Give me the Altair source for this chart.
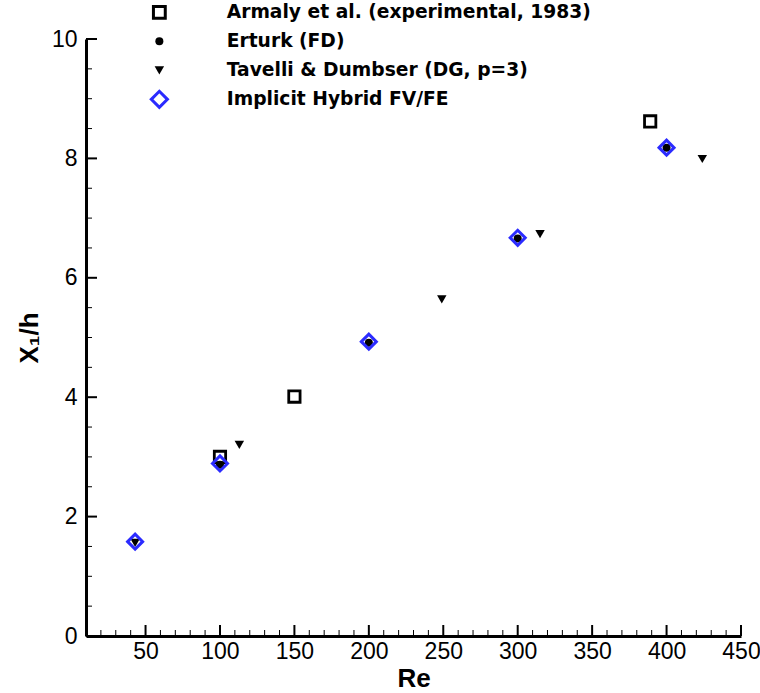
import altair as alt
import pandas as pd

# ---- data ----
series_names = [
    "Armaly et al. (experimental, 1983)",
    "Erturk (FD)",
    "Tavelli & Dumbser (DG, p=3)",
    "Implicit Hybrid FV/FE",
]
armaly_re = [100, 150, 389]
armaly_x = [3.00, 4.01, 8.62]
erturk_re = [100, 200, 300, 400]
erturk_x = [2.87, 4.91, 6.66, 8.18]
tavelli_re = [43, 113, 249, 315, 424]
tavelli_x = [1.56, 3.20, 5.64, 6.73, 7.99]
hybrid_re = [43, 100, 200, 300, 400]
hybrid_x = [1.58, 2.89, 4.93, 6.67, 8.18]

x_major = [50, 100, 150, 200, 250, 300, 350, 400, 450]
x_minor = [v for v in range(20, 450, 10) if v % 50 != 0]
y_major = [0, 2, 4, 6, 8, 10]
y_minor = [v / 2 for v in range(1, 20) if v % 4 != 0]

W, H = 655, 597
FONT = "Liberation Sans"
LEGFONT = "DejaVu Sans"

xscale = alt.Scale(domain=[10, 450], nice=False, zero=False)
yscale = alt.Scale(domain=[0, 10], nice=False, zero=True)

xaxis = alt.Axis(values=x_major, title="Re", ticks=False, grid=False,
                 domainColor="black", domainWidth=3, labelFlush=False,
                 labelFont=FONT, labelFontSize=23, labelColor="black",
                 labelPadding=4, titleFont=FONT, titleFontSize=26,
                 titleFontWeight="bold", titleColor="black", titlePadding=2)
yaxis = alt.Axis(values=y_major, title="X₁/h", ticks=False, grid=False,
                 domainColor="black", domainWidth=3, labelFlush=False,
                 labelFont=FONT, labelFontSize=23, labelColor="black",
                 labelPadding=9, titleFont=FONT, titleFontSize=26,
                 titleFontWeight="bold", titleColor="black", titlePadding=9)

n0, n1, n2, n3 = series_names
size_expr = (f"datum.value === '{n0}' ? 140 : datum.value === '{n1}' ? 64 : "
             f"datum.value === '{n2}' ? 90 : 260")
sw_expr = f"datum.value === '{n1}' || datum.value === '{n2}' ? 0 : 3"

legend = alt.Legend(title=None, orient="none", legendX=64, legendY=-36,
                    labelFont=LEGFONT, labelFontSize=18.7, labelFontWeight="bold",
                    labelColor="black", labelOffset=58, rowPadding=0,
                    gridAlign="all", padding=0, labelLimit=600, symbolOpacity=1,
                    symbolSize={"expr": size_expr},
                    symbolStrokeWidth={"expr": sw_expr})

shape_enc = alt.Shape("series:N", legend=legend,
                      scale=alt.Scale(domain=series_names,
                                      range=["square", "circle", "triangle-down", "diamond"]))
fill_enc = alt.Fill("series:N", legend=legend,
                    scale=alt.Scale(domain=series_names,
                                    range=["transparent", "black", "black", "transparent"]))
stroke_enc = alt.Stroke("series:N", legend=legend,
                        scale=alt.Scale(domain=series_names,
                                        range=["black", "black", "black", "#2b2bff"]))

marks_style = {n0: (128, 2.8), n1: (64, 0), n2: (90, 0), n3: (225, 3)}

xmaj_df = pd.DataFrame({"v": x_major})
xmin_df = pd.DataFrame({"v": x_minor})
ymaj_df = pd.DataFrame({"v": y_major})
ymin_df = pd.DataFrame({"v": y_minor})
layers = [
    alt.Chart(xmin_df).mark_rule(color="black", strokeWidth=1).encode(
        x=alt.X("v:Q", scale=xscale, axis=xaxis), y=alt.value(H), y2=alt.value(H - 6)),
    alt.Chart(xmaj_df).mark_rule(color="black", strokeWidth=2).encode(
        x=alt.X("v:Q", scale=xscale, axis=xaxis), y=alt.value(H), y2=alt.value(H - 11)),
    alt.Chart(ymin_df).mark_rule(color="black", strokeWidth=1).encode(
        y=alt.Y("v:Q", scale=yscale, axis=yaxis), x=alt.value(0), x2=alt.value(6)),
    alt.Chart(ymaj_df).mark_rule(color="black", strokeWidth=2).encode(
        y=alt.Y("v:Q", scale=yscale, axis=yaxis), x=alt.value(0), x2=alt.value(11)),
]

for name, xs, ys in zip(series_names,
                        [armaly_re, erturk_re, tavelli_re, hybrid_re],
                        [armaly_x, erturk_x, tavelli_x, hybrid_x]):
    d = pd.DataFrame({"series": [name] * len(xs), "Re": xs, "X1h": ys})
    sz, sw = marks_style[name]
    layers.append(
        alt.Chart(d).mark_point(opacity=1, size=sz, strokeWidth=sw).encode(
            x=alt.X("Re:Q", scale=xscale, axis=xaxis),
            y=alt.Y("X1h:Q", scale=yscale, axis=yaxis),
            shape=shape_enc, fill=fill_enc, stroke=stroke_enc,
        )
    )

chart = alt.layer(*layers).properties(
    width=W, height=H,
    autosize=alt.AutoSizeParams(type="none"),
    padding={"left": 86, "top": 39, "right": 19, "bottom": 57},
    background="white",
).configure_view(strokeWidth=0)

chart.save("out.html", embed_options={"renderer": "svg", "actions": False})
